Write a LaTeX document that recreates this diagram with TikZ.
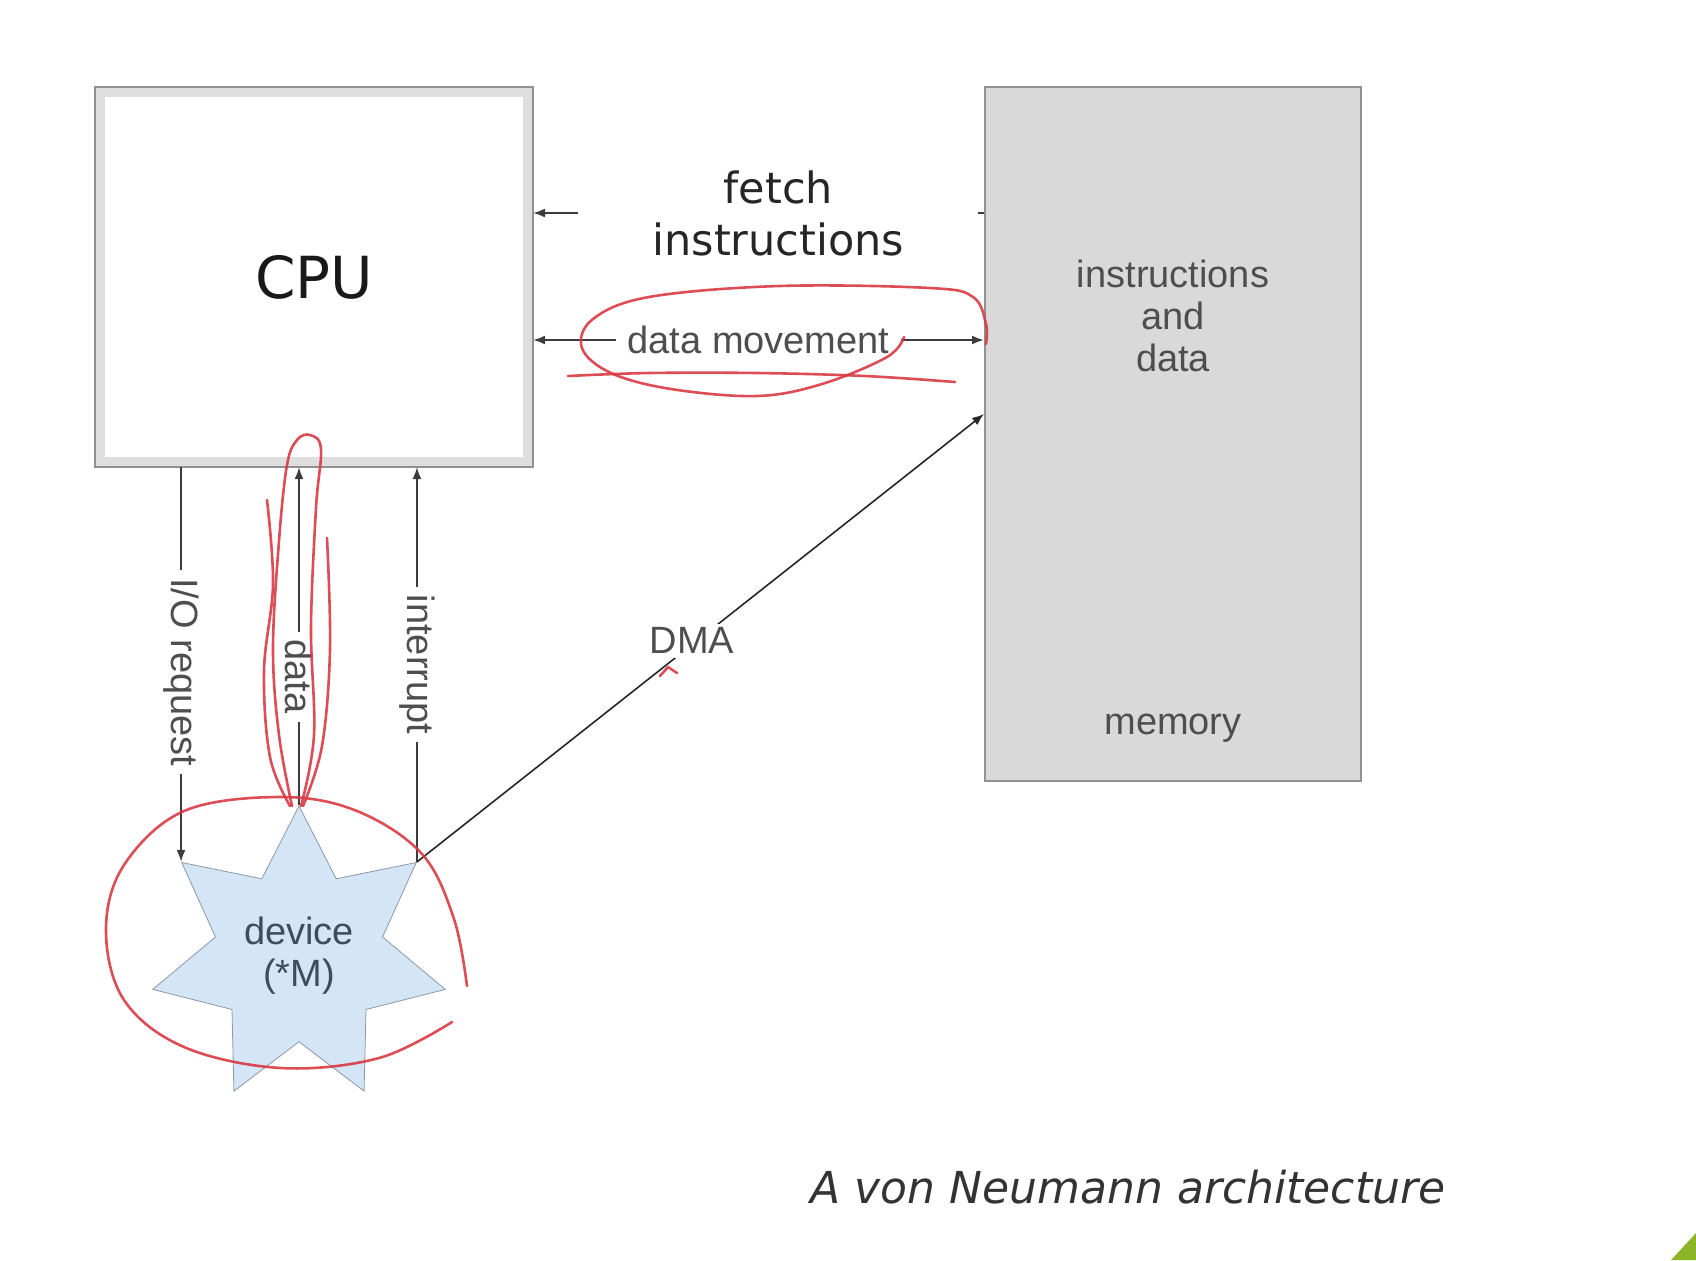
\documentclass[tikz,border=0pt]{standalone}
\usepackage{fontspec}
\setmainfont{Liberation Sans}
\newfontfamily\dejavu{DejaVu Sans}
\usetikzlibrary{arrows.meta}
\usetikzlibrary{shapes.geometric, positioning, calc}
\definecolor{edgegray}{RGB}{145,145,145}
\definecolor{bandgray}{RGB}{222,222,222}
\definecolor{memgray}{RGB}{217,217,217}
\definecolor{devblue}{RGB}{212,230,246}
\definecolor{devedge}{RGB}{140,152,168}
\definecolor{devtext}{RGB}{60,76,98}
\definecolor{wirecol}{RGB}{60,60,60}
\definecolor{labelgray}{RGB}{78,78,78}
\definecolor{pen}{RGB}{216,58,68}
\definecolor{slidegreen}{RGB}{140,180,40}

\begin{document}
\begin{tikzpicture}[x=0.5pt, y=-0.5pt,
    >={Latex[length=6pt,width=4.5pt]},
    lbl/.style={font=\fontsize{19pt}{21pt}\selectfont, text=labelgray},
    vlbl/.style={lbl, fill=white, rotate=-90, inner xsep=4pt, inner ysep=1pt},
    link/.style={draw=wirecol, line width=1pt},
    scribble/.style={pen, line width=1.3pt, line cap=round, line join=round, opacity=0.9}]

    \useasboundingbox (0,0) rectangle (1696,1260);

    % the two boxes
    \node[draw=bandgray, line width=5pt, fill=white, outer sep=2.5pt, minimum width=214pt, minimum height=185pt,
          font=\dejavu\fontsize{29pt}{34pt}\selectfont, text=black!90] (cpu) at (314,277) {CPU};
    \draw[edgegray, line width=1pt] (cpu.north west) rectangle (cpu.south east);

    \node[draw=edgegray, line width=1pt, fill=memgray, minimum width=188pt, minimum height=347pt] (mem) at (1173,434) {};
    \node[lbl, align=center] (memtext) at ([yshift=-115pt]mem.north) {instructions\\and\\data};
    \node[lbl] (memname) at ([yshift=27pt]mem.south) {memory};

    % device
    \node[star, star points=7, star point ratio=1.75, minimum size=150pt, inner sep=0pt, draw=devedge, fill=devblue,
          lbl, text=devtext, align=center] (dev) at (299,956) {device\\(*M)};

    % cpu <-> memory
    \coordinate (fetchy) at (0,213);
    \coordinate (movey) at (0,340);
    \coordinate (dmay) at (0,414);
    \draw[link, ->] (mem.west |- fetchy) -- node[pos=0.456, fill=white, text width=200pt, align=center, inner xsep=0pt,
          font=\dejavu\fontsize{21.5pt}{26pt}\selectfont, text=black!85] (fetchlbl) {fetch\\instructions} (cpu.east |- fetchy);
    \draw[link, <->] (cpu.east |- movey) -- node[lbl, fill=white, inner xsep=6pt, inner ysep=2pt] (movelbl) {data movement} (mem.west |- movey);

    % device <-> cpu, memory
    \draw[link, ->] (cpu.south -| dev.outer point 2) -- node[vlbl, pos=0.52] (iolbl) {I/O request} (dev.outer point 2);
    \draw[link, ->] (dev.outer point 1) -- node[vlbl, pos=0.38] (datalbl) {data} (cpu.south -| dev.outer point 1);
    \draw[link, ->] (dev.outer point 7) -- node[vlbl] (irqlbl) {interrupt} (cpu.south -| dev.outer point 7);
    \draw[link, line width=0.8pt, draw=black!85, ->] (dev.outer point 7) -- node[lbl, fill=white, pos=0.485, inner sep=2pt, yshift=2pt] (dmalbl) {DMA} (mem.west |- dmay);

    % pen marks
    \draw[scribble] plot[smooth, tension=0.6] coordinates {(904,337) (887,357) (822,384) (757,396) (671,389) (611,373) (582,348) (593,319) (649,297) (779,286) (930,288) (973,297) (986,324) (986,344)};
    \draw[scribble] plot[smooth, tension=0.6] coordinates {(568,376) (649,373) (757,373) (865,376) (955,382)};
    \draw[scribble] plot[smooth, tension=0.6] coordinates {(292,806) (279,735) (273,649) (279,541) (287,465) (297,440) (310,435) (321,449) (316,508) (311,627) (314,735) (301,806)};
    \draw[scribble] plot[smooth, tension=0.6] coordinates {(267,500) (273,584) (264,671) (270,757) (290,806)};
    \draw[scribble] plot[smooth, tension=0.6] coordinates {(327,538) (330,649) (322,746) (303,806)};
    \draw[scribble] plot[smooth, tension=0.6] coordinates {(467,986) (454,919) (422,854) (357,811) (281,797) (184,811) (124,865) (106,930) (124,1000) (184,1047) (281,1068) (379,1058) (452,1022)};
    \draw[scribble] (660,676) -- (668,667) -- (677,673);

    \node[font=\dejavu\itshape\fontsize{22pt}{26pt}\selectfont, text=black!80] (caption) at (1128,1187) {A von Neumann architecture};

    \fill[slidegreen] (1671,1260) -- (1696,1233) -- (1696,1260) -- cycle;

\end{tikzpicture}
\end{document}
